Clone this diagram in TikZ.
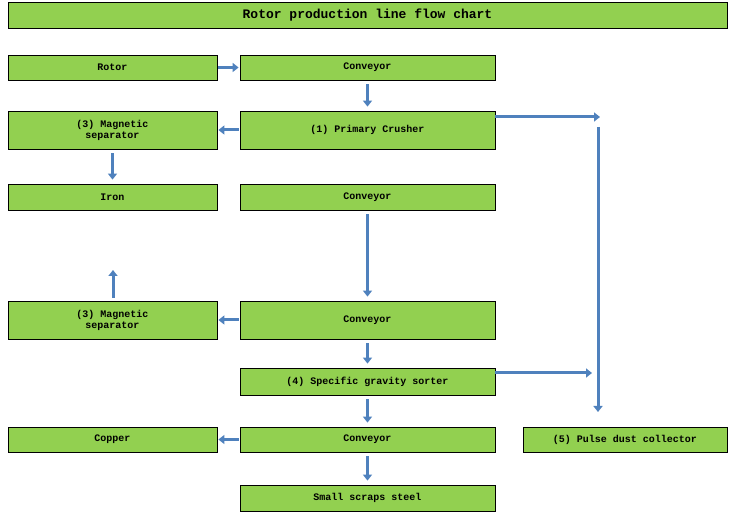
\documentclass[tikz,border=0pt]{standalone}
\usepackage{fontspec}
\setmonofont{Liberation Mono}
\usetikzlibrary{arrows.meta}
\definecolor{boxg}{RGB}{146,208,80}
\definecolor{arr}{RGB}{79,129,189}
\begin{document}
\begin{tikzpicture}[x=1pt,y=-1pt,
  box/.style={draw=black,line width=0.8pt,fill=boxg,inner sep=0pt,font=\ttfamily\bfseries\fontsize{10}{11}\selectfont,align=center},
  ar/.style={draw=arr,line width=3pt,-{Triangle[length=6pt,width=9pt]},shorten <=4pt,shorten >=4pt}]
\useasboundingbox (0,0) rectangle (737,521);
\newcommand{\bx}[6]{\node[box,minimum width=#4-#2,minimum height=#5-#3] (#1) at ({(#2+#4)/2},{(#3+#5)/2}) {#6};}
\bx{title}{8}{2}{727}{28}{\fontsize{13}{14}\selectfont Rotor production line flow chart}
\bx{rotor}{8}{55}{217}{80}{Rotor}
\bx{c1}{240}{55}{495}{80}{Conveyor}
\bx{m1}{8}{111}{217}{149}{(3) Magnetic\\separator}
\bx{cr}{240}{111}{495}{149}{(1) Primary Crusher}
\bx{iron}{8}{184}{217}{210}{Iron}
\bx{c2}{240}{184}{495}{210}{Conveyor}
\bx{m2}{8}{301}{217}{339}{(3) Magnetic\\separator}
\bx{c3}{240}{301}{495}{339}{Conveyor}
\bx{so}{240}{368}{495}{395}{(4) Specific gravity sorter}
\bx{cu}{8}{427}{217}{452}{Copper}
\bx{c4}{240}{427}{495}{452}{Conveyor}
\bx{sm}{240}{485}{495}{511}{Small scraps steel}
\bx{pu}{523}{427}{727}{452}{(5) Pulse dust collector}
\coordinate (p1) at (600,117);
\coordinate (p2) at (598,127);
\coordinate (p3) at (598,412);
\coordinate (p4) at (592,373);
\coordinate (u1) at (113,298);
\coordinate (u2) at (113,270);
\draw[ar,shorten <=1pt,shorten >=1pt] (rotor) -- (c1);
\draw[ar] (c1) -- (cr);
\draw[ar,shorten <=1pt,shorten >=1pt] (cr) -- (m1);
\draw[ar] (m1) -- (iron);
\draw[ar] (c2) -- (c3);
\draw[ar,shorten <=1pt,shorten >=1pt] (c3) -- (m2);
\draw[ar] (c3) -- (so);
\draw[ar] (so) -- (c4);
\draw[ar,shorten <=1pt,shorten >=1pt] (c4) -- (cu);
\draw[ar] (c4) -- (sm);
\draw[ar,shorten <=0pt,shorten >=0pt] (cr.east|-p1) -- (p1);
\draw[ar,shorten <=0pt,shorten >=0pt] (p2) -- (p3);
\draw[ar,shorten <=0pt,shorten >=0pt] (so.east|-p4) -- (p4);
\draw[ar,shorten <=0pt,shorten >=0pt] (u1) -- (u2);
\end{tikzpicture}
\end{document}
